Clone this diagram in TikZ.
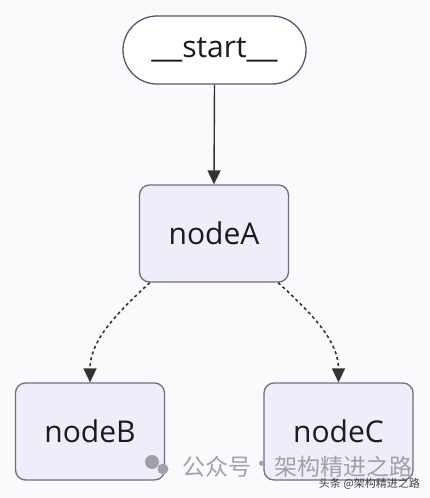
\documentclass[tikz,border=0pt]{standalone}
\usepackage{fontspec}
\setmainfont{Open Sans}
\newfontfamily\cjkfont{Noto Sans CJK SC}
\usetikzlibrary{arrows.meta}
\definecolor{bgc}{HTML}{FAFAFC}
\definecolor{nodefill}{HTML}{EEEEFA}
\definecolor{nodedraw}{HTML}{6F6C88}
\definecolor{edgec}{HTML}{333333}
\definecolor{txtc}{HTML}{1A1A20}
\definecolor{wmc}{HTML}{A0A0A8}
\tikzset{
  box/.style={draw=nodedraw, fill=nodefill, line width=1.3pt, rounded corners=10pt,
    minimum width=149pt, minimum height=97pt, inner sep=0pt, text=txtc,
    font=\fontsize{30}{32}\selectfont},
  pill/.style={draw=nodedraw!80!black, fill=white, line width=1.3pt, rounded corners=34pt,
    minimum width=183pt, minimum height=68pt, inner sep=0pt, text=txtc,
    font=\fontsize{30}{32}\selectfont},
  solidedge/.style={draw=edgec, line width=1.4pt, -{Triangle[length=14pt,width=13pt]}},
  dashedge/.style={draw=edgec, line width=1.6pt, dash pattern=on 3pt off 3pt, -{Triangle[length=14pt,width=13pt]}},
  wm/.style={text=wmc, font=\cjkfont\fontsize{23}{24}\selectfont, inner sep=0pt},
}
\begin{document}
\begin{tikzpicture}[x=1pt,y=-1pt]
\fill[bgc] (0,0) rectangle (430,498);
\useasboundingbox (0,0) rectangle (430,498);
\node[pill] (s) at (214.5,50) {\scalebox{1.15}[1]{\_\_}start\scalebox{1.15}[1]{\_\_}};
\node[box] (a) at (214,233.5) {nodeA};
\node[box] (b) at (90,431.5) {nodeB};
\node[box] (c) at (338.5,431.5) {nodeC};
\draw[solidedge] (s.south) -- (a.north);
\draw[dashedge] ([xshift=11pt]a.south west) .. controls (118,312) and (90,340) .. (b.north);
\draw[dashedge] ([xshift=-11pt]a.south east) .. controls (310,312) and (338.5,340) .. (c.north);
% watermark
\fill[wmc] (152,462) circle (7);
\fill[wmc] (163,469) circle (5.5);
\node[wm, anchor=west] (w1) at (182,467) {公众号};
\node[wm] (w2) at (262,467) {·};
\node[wm, anchor=west] (w3) at (274,467) {架构精进之路};
\node[text=black!75, font=\cjkfont\fontsize{11}{12}\selectfont, inner sep=0pt, anchor=east] (w4) at (420,484) {头条 @架构精进之路};
\end{tikzpicture}
\end{document}
